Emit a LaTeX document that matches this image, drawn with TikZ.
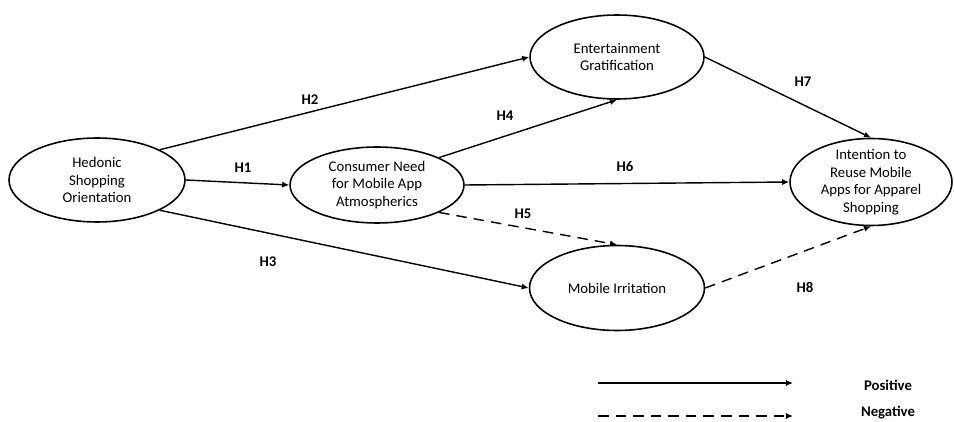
\documentclass[tikz,border=0pt]{standalone}
\usepackage{fontspec}
\setmainfont{Carlito}
\usetikzlibrary{shapes.geometric,arrows.meta}

\tikzset{
  construct/.style={ellipse,draw,line width=0.9pt,inner sep=0pt},
  ctext/.style={align=center,font=\fontsize{8.4}{10}\selectfont},
  hyp/.style={font=\fontsize{8.4}{10}\selectfont\bfseries},
  posarrow/.style={-{Latex[length=4pt,width=3.5pt]},line width=0.8pt},
  negarrow/.style={posarrow,dash pattern=on 6pt off 4pt}
}

\begin{document}
\begin{tikzpicture}[x=0.02cm,y=-0.02cm]
\useasboundingbox (0,0) rectangle (954,422);
% constructs
\node[construct,minimum width=3.52cm,minimum height=1.68cm,
  label={[ctext]center:Hedonic\\Shopping\\Orientation}] (hso) at (97,180) {};
\node[construct,minimum width=3.48cm,minimum height=1.52cm,
  label={[ctext]center:Consumer Need\\for Mobile App\\Atmospherics}] (cna) at (377,185) {};
\node[construct,minimum width=3.48cm,minimum height=1.68cm,
  label={[ctext]center:Entertainment\\Gratification}] (eg) at (617,57) {};
\node[construct,minimum width=3.5cm,minimum height=1.7cm,
  label={[ctext]center:Mobile Irritation}] (mi) at (617,288) {};
\node[construct,minimum width=3.24cm,minimum height=1.74cm,
  label={[ctext]center:Intention to\\Reuse Mobile\\Apps for Apparel\\Shopping}] (irm) at (871,182) {};
% paths
\draw[posarrow] (hso.east) -- (cna.west);
\draw[posarrow] (hso.north east) -- (eg.west);
\draw[posarrow] (hso.south east) -- (mi.west);
\draw[posarrow] (cna.north east) -- (eg.south);
\draw[negarrow] (cna.south east) -- (mi.north);
\draw[posarrow] (cna.east) -- (irm.west);
\draw[posarrow] (eg.east) -- (irm.north);
\draw[negarrow] (mi.east) -- (irm.south);
% hypotheses
\node[hyp] (h1) at (243,168) {H1};
\node[hyp] (h2) at (310,100) {H2};
\node[hyp] (h3) at (268,262) {H3};
\node[hyp] (h4) at (505,116) {H4};
\node[hyp] (h5) at (523,214) {H5};
\node[hyp] (h6) at (625,167) {H6};
\node[hyp] (h7) at (803,82) {H7};
\node[hyp] (h8) at (805,287) {H8};
% legend
\coordinate (posa) at (598,383);
\coordinate (posb) at (793,383);
\coordinate (nega) at (598,416);
\coordinate (negb) at (793,416);
\draw[posarrow] (posa) -- (posb);
\draw[negarrow] (nega) -- (negb);
\node[hyp] (lpos) at (888,385) {Positive};
\node[hyp] (lneg) at (888,413) {Negative};
\end{tikzpicture}
\end{document}
